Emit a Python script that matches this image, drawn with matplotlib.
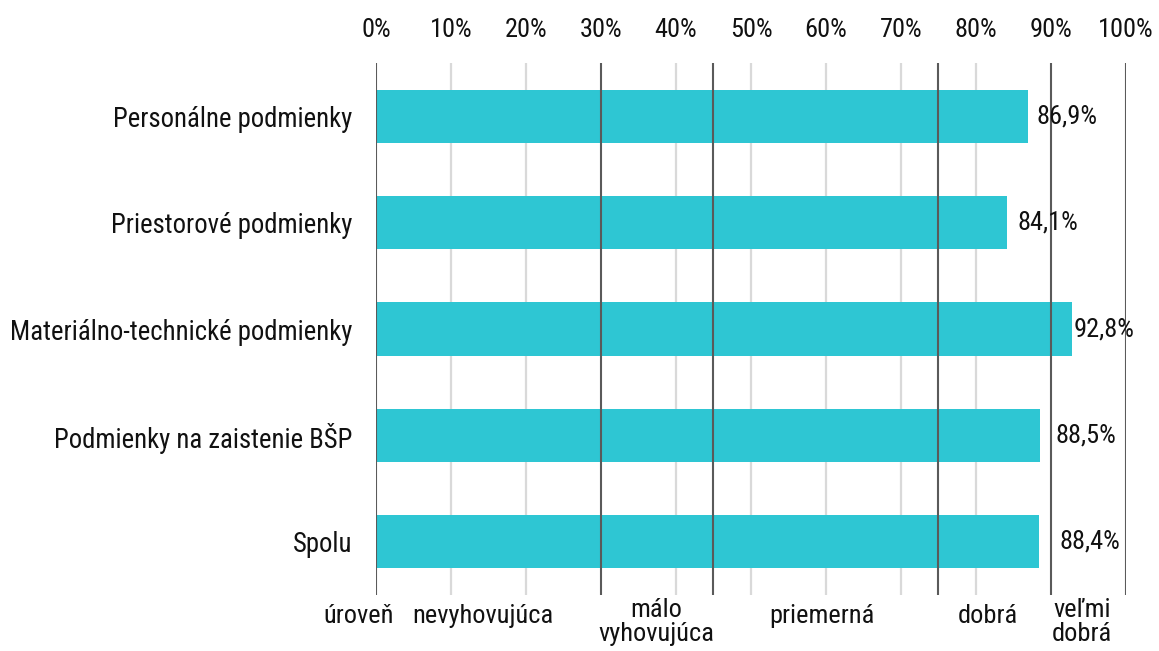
import matplotlib
matplotlib.use('Agg')
import matplotlib.pyplot as plt
from matplotlib import font_manager

# data
categories = ['Personálne podmienky', 'Priestorové podmienky',
              'Materiálno-technické podmienky', 'Podmienky na zaistenie BŠP', 'Spolu']
values = [86.9, 84.1, 92.8, 88.5, 88.4]
x_ticks = [0, 10, 20, 30, 40, 50, 60, 70, 80, 90, 100]
level_bounds = [0, 30, 45, 75, 90, 100]
level_names = ['úroveň', 'nevyhovujúca', 'málo\nvyhovujúca', 'priemerná', 'dobrá', 'veľmi\ndobrá']
level_pos = [-2.3, 14.3, 37.4, 59.4, 81.6, 94.1]

# pick a narrow face if one exists
installed = {f.name for f in font_manager.fontManager.ttflist}
font = 'Roboto'
for name in ['Roboto Condensed', 'Liberation Sans Narrow']:
    if name in installed:
        font = name
        break
plt.rcParams['font.family'] = [font, 'DejaVu Sans']

bar_color = '#2ec6d3'
dark = '#5a5a5a'
light = '#d9d9d9'
txt = '#111111'

fig = plt.figure(figsize=(11.59, 6.51), dpi=100)
ax = fig.add_axes([0.3244, 0.0860, 0.6471, 0.8172])

ypos = list(range(len(categories)))
ax.barh(ypos, values, height=0.5, color=bar_color, zorder=2)

for x in x_ticks:
    if x not in level_bounds:
        ax.axvline(x, color=light, lw=1.6, zorder=0)
for x in level_bounds:
    ax.axvline(x, color=dark, lw=1.5, zorder=3)

# value labels, offsets as in the original
offsets = [6.5, 8, 1.5, 11.5, 14.5]
for y, v, off in zip(ypos, values, offsets):
    ax.annotate(f'{v:.1f}%'.replace('.', ','), xy=(v, y), xytext=(off, 0),
                textcoords='offset points', va='center', ha='left',
                fontsize=19, color=txt, zorder=4)

for name, pos in zip(level_names, level_pos):
    ypix = 622 if '\n' in name else 616
    ax.text(pos, (595 - ypix) / 532, name, transform=ax.get_xaxis_transform(),
            ha='center', va='center', fontsize=19, color=txt,
            linespacing=1.0)

ax.set_xlim(0, 100)
ax.set_ylim(len(categories) - 0.5, -0.5)
ax.set_yticks(ypos)
ax.set_yticklabels(categories, fontsize=19.3, color=txt)
ax.xaxis.tick_top()
ax.set_xticks(x_ticks)
ax.set_xticklabels([f'{x}%' for x in x_ticks], fontsize=19, color=txt)
ax.tick_params(axis='x', length=0, pad=15)
ax.tick_params(axis='y', length=0, pad=17)
for s in ax.spines.values():
    s.set_visible(False)

fig.savefig('out.png', dpi=100)
